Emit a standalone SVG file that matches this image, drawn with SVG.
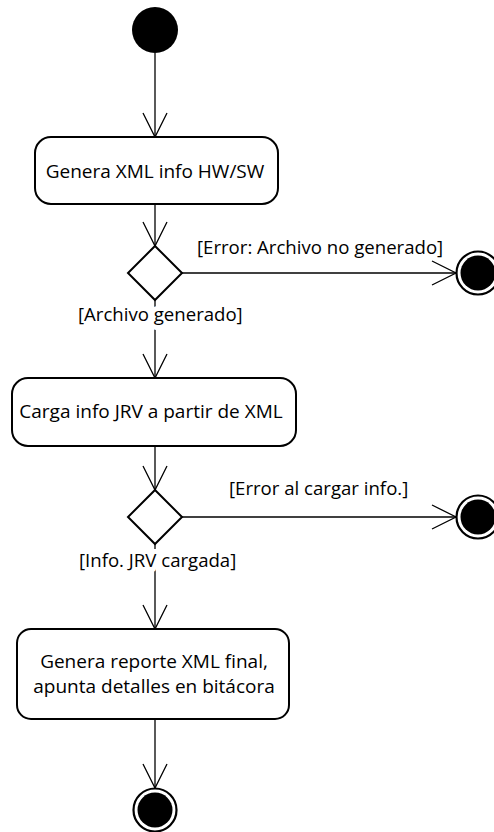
<svg xmlns="http://www.w3.org/2000/svg" width="494" height="832" viewBox="0 0 494 832">
<style>
  .act { fill: #fff; stroke: #000; stroke-width: 2; }
  .dec { fill: #fff; stroke: #000; stroke-width: 2; }
  .txt { font-family: "Open Sans", "Liberation Sans", sans-serif; font-size: 19px; fill: #000; }
  .lbl { font-family: "Open Sans", "Liberation Sans", sans-serif; font-size: 18.6px; fill: #000; }
  .halo { stroke: #fff; stroke-width: 10px; paint-order: stroke; stroke-linejoin: round; }
  .edge { fill: none; stroke: #000; stroke-width: 1.3; marker-end: url(#arr); }
  .ring { fill: #fff; stroke: #000; stroke-width: 2.2; }
</style>
<defs>
  <marker id="arr" markerUnits="userSpaceOnUse" markerWidth="30" markerHeight="30" viewBox="0 0 30 30" refX="26" refY="15" orient="auto">
    <path d="M2,3 L26,15 L2,27" fill="none" stroke="#000" stroke-width="1.3"/>
  </marker>
</defs>
<rect width="494" height="832" fill="#fff"/>

<g id="connectors">
  <line class="edge" x1="155" y1="53" x2="155" y2="137"/>
  <line class="edge" x1="155" y1="204" x2="155" y2="246"/>
  <line class="edge" x1="182" y1="273" x2="456" y2="273"/>
  <line class="edge" x1="155" y1="300" x2="155" y2="378"/>
  <line class="edge" x1="155" y1="446" x2="155" y2="490"/>
  <line class="edge" x1="182" y1="517" x2="456" y2="517"/>
  <line class="edge" x1="155" y1="544" x2="155" y2="629"/>
  <line class="edge" x1="155" y1="719" x2="155" y2="788"/>
  <text class="lbl" x="197" y="254">[Error: Archivo no generado]</text>
  <text class="lbl halo" x="78" y="321">[Archivo generado]</text>
  <text class="lbl" x="229" y="495">[Error al cargar info.]</text>
  <text class="lbl halo" x="79" y="567">[Info. JRV cargada]</text>
</g>

<g id="start">
  <circle cx="155" cy="30" r="23" fill="#000"/>
</g>

<g id="genera-xml">
  <rect class="act" x="35" y="137" width="243" height="67" rx="16"/>
  <text class="txt" x="155" y="178" text-anchor="middle">Genera XML info HW/SW</text>
</g>

<g id="decision1">
  <polygon class="dec" points="155,246 182,273 155,300 128,273"/>
</g>

<g id="end1">
  <circle class="ring" cx="478" cy="273" r="21.5"/>
  <circle cx="478" cy="273" r="17.5" fill="#000"/>
</g>

<g id="carga-info">
  <rect class="act" x="12" y="378" width="284" height="68" rx="16"/>
  <text class="txt" x="151" y="418" text-anchor="middle">Carga info JRV a partir de XML</text>
</g>

<g id="decision2">
  <polygon class="dec" points="155,490 182,517 155,544 128,517"/>
</g>

<g id="end2">
  <circle class="ring" cx="478" cy="517" r="21.5"/>
  <circle cx="478" cy="517" r="17.5" fill="#000"/>
</g>

<g id="genera-reporte">
  <rect class="act" x="17" y="629" width="272" height="90" rx="14"/>
  <text class="txt" x="154" y="668" text-anchor="middle">Genera reporte XML final,</text>
  <text class="txt" x="154" y="693" text-anchor="middle">apunta detalles en bitácora</text>
</g>

<g id="end3">
  <circle class="ring" cx="155" cy="810" r="21.5"/>
  <circle cx="155" cy="810" r="17.5" fill="#000"/>
</g>
</svg>
